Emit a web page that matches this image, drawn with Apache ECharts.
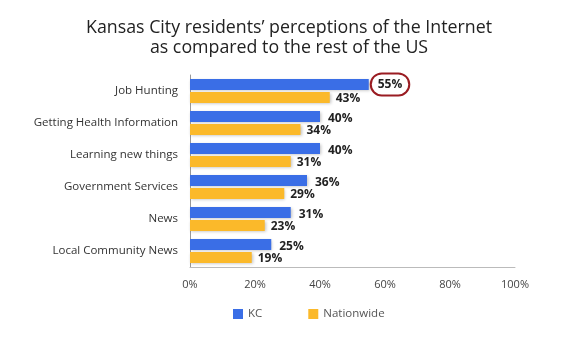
<!DOCTYPE html>
<html><head><meta charset="utf-8">
<script src="https://cdn.jsdelivr.net/npm/echarts@6/dist/echarts.min.js"></script>
<style>html,body{margin:0;padding:0;background:#fff}#c{width:584px;height:345px}</style>
</head><body><div id="c"></div>
<script>
const titleText = "Kansas City residents’ perceptions of the Internet\nas compared to the rest of the US";
const categories = ["Job Hunting","Getting Health Information","Learning new things","Government Services","News","Local Community News"];
const kcValues = [55,40,40,36,31,25];
const nationValues = [43,34,31,29,23,19];
const seriesNames = ["KC","Nationwide"];
const highlightIndex = 0;

const font = "'Open Sans', 'Noto Sans', sans-serif";
const chart = echarts.init(document.getElementById('c'));
const kcData = kcValues.map((v,i)=> i===highlightIndex ? {
  value: v,
  label: {borderColor:'#9a1c22', borderWidth:2, borderRadius:14, padding:[6,7,4,7], offset:[0,0], distance:2}
} : v);
chart.setOption({
  animation:false,
  title:{text:titleText,left:284,textAlign:'center',top:13,textStyle:{fontFamily:font,fontWeight:'normal',fontSize:17.8,color:'#222',lineHeight:20}},
  grid:{left:190,right:69,top:75,bottom:78},
  legend:{bottom:20,left:228,itemWidth:10,itemHeight:10,itemGap:46,icon:'rect',textStyle:{fontFamily:font,fontSize:11.5,color:'#555'},data:seriesNames},
  xAxis:{type:'value',min:0,max:100,interval:20,splitLine:{show:false},
    axisLine:{show:true,lineStyle:{color:'#bbb'}},axisTick:{show:false},
    axisLabel:{formatter:'{value}%',fontFamily:font,fontSize:11,color:'#444',margin:12}},
  yAxis:{type:'category',data:categories,inverse:true,
    axisLine:{show:true,lineStyle:{color:'#999'}},axisTick:{show:false},
    axisLabel:{fontFamily:font,fontSize:11.5,color:'#333',margin:12}},
  series:[
    {name:seriesNames[0],type:'bar',data:kcData,barWidth:11,barGap:'20%',
     itemStyle:{color:'#3a6ee6',shadowColor:'rgba(0,0,0,0.25)',shadowBlur:3,shadowOffsetX:1,shadowOffsetY:1},
     label:{show:true,position:'right',distance:8,offset:[0,2],formatter:'{c}%',fontFamily:font,fontWeight:'bold',fontSize:12,color:'#222'}},
    {name:seriesNames[1],type:'bar',data:nationValues,barWidth:11,
     itemStyle:{color:'#fbb92a',shadowColor:'rgba(0,0,0,0.25)',shadowBlur:3,shadowOffsetX:1,shadowOffsetY:1},
     label:{show:true,position:'right',distance:6,offset:[0,1],formatter:'{c}%',fontFamily:font,fontWeight:'bold',fontSize:12,color:'#222'}}
  ]
});
</script></body></html>
